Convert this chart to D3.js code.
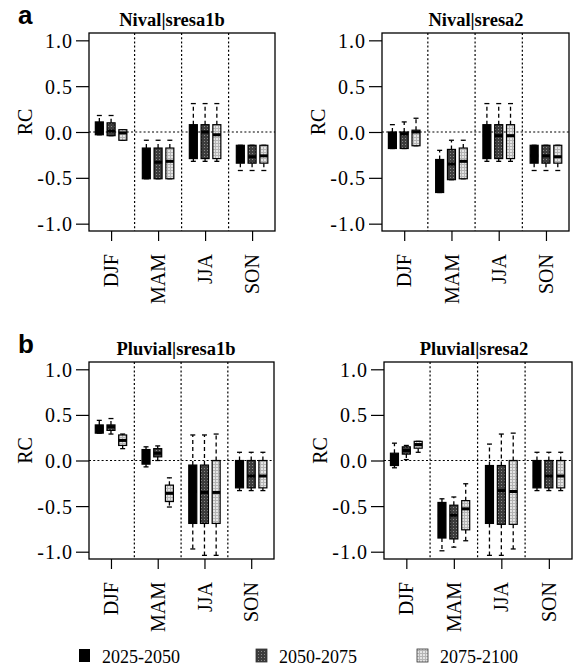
<!DOCTYPE html>
<html>
<head>
<meta charset="utf-8">
<script src="https://cdn.jsdelivr.net/npm/d3@7"></script>
<style>
  body { margin: 0; background: #fff; }
  svg text { font-family: "Liberation Serif", "DejaVu Serif", serif; fill: #000; }
  .letter { font-family: "Liberation Sans", Arial, sans-serif !important; font-weight: bold; font-size: 26px; }
</style>
</head>
<body>
<div id="chart"></div>
<script>
  const seasons = ['DJF', 'MAM', 'JJA', 'SON'];
  const periods = ['2025-2050', '2050-2075', '2075-2100'];
  const yTicks = [1.0, 0.5, 0.0, -0.5, -1.0];

  // each box: [lower whisker, q1, median, q3, upper whisker], ordered season x period
  const nivalA1B = [
    [-0.03, -0.03, 0.05, 0.11, 0.18], [-0.04, -0.04, 0.01, 0.10, 0.18], [-0.09, -0.09, -0.01, 0.025, 0.025],
    [-0.51, -0.51, -0.33, -0.175, -0.09], [-0.51, -0.51, -0.33, -0.175, -0.09], [-0.51, -0.51, -0.32, -0.175, -0.09],
    [-0.32, -0.29, -0.02, 0.08, 0.31], [-0.32, -0.29, 0.0, 0.08, 0.31], [-0.32, -0.29, -0.03, 0.08, 0.31],
    [-0.42, -0.34, -0.27, -0.145, -0.145], [-0.42, -0.34, -0.27, -0.145, -0.145], [-0.42, -0.34, -0.26, -0.145, -0.145]
  ];
  const nivalA2 = [
    [-0.18, -0.18, -0.05, 0.0, 0.08], [-0.18, -0.18, -0.02, 0.0, 0.11], [-0.15, -0.15, 0.0, 0.02, 0.15],
    [-0.66, -0.66, -0.5, -0.30, -0.2], [-0.52, -0.52, -0.35, -0.19, -0.09], [-0.51, -0.51, -0.32, -0.175, -0.09],
    [-0.32, -0.29, -0.04, 0.08, 0.31], [-0.32, -0.29, -0.04, 0.08, 0.31], [-0.32, -0.29, -0.04, 0.08, 0.31],
    [-0.42, -0.34, -0.26, -0.145, -0.145], [-0.42, -0.34, -0.26, -0.145, -0.145], [-0.42, -0.34, -0.27, -0.145, -0.145]
  ];
  const pluvialA1B = [
    [0.30, 0.30, 0.36, 0.39, 0.44], [0.29, 0.33, 0.37, 0.39, 0.46], [0.13, 0.165, 0.22, 0.28, 0.29],
    [-0.07, -0.04, 0.05, 0.12, 0.15], [0.0, 0.04, 0.08, 0.13, 0.16], [-0.51, -0.45, -0.36, -0.27, -0.19],
    [-0.97, -0.69, -0.34, -0.05, 0.28], [-1.04, -0.69, -0.35, -0.05, 0.28], [-1.04, -0.69, -0.35, 0.0, 0.29],
    [-0.33, -0.30, -0.16, 0.0, 0.09], [-0.33, -0.30, -0.17, 0.0, 0.09], [-0.33, -0.30, -0.17, 0.0, 0.09]
  ];
  const pluvialA2 = [
    [-0.08, -0.055, 0.0, 0.08, 0.19], [0.01, 0.07, 0.11, 0.15, 0.165], [0.09, 0.135, 0.175, 0.21, 0.21],
    [-0.99, -0.85, -0.6, -0.46, -0.42], [-0.95, -0.86, -0.6, -0.49, -0.40], [-0.88, -0.76, -0.53, -0.44, -0.255],
    [-1.04, -0.69, -0.35, -0.055, 0.18], [-1.04, -0.70, -0.33, -0.055, 0.29], [-0.97, -0.70, -0.34, 0.0, 0.30],
    [-0.33, -0.30, -0.17, 0.0, 0.09], [-0.33, -0.30, -0.17, 0.0, 0.09], [-0.33, -0.30, -0.17, 0.0, 0.09]
  ];

  const panels = [
    { title: 'Nival|sresa1b', letter: 'a', stats: nivalA1B, x0: 89, x1: 275, y0: 33, y1: 231, tx: 172 },
    { title: 'Nival|sresa2', stats: nivalA2, x0: 382, x1: 569, y0: 33, y1: 231, tx: 476 },
    { title: 'Pluvial|sresa1b', letter: 'b', stats: pluvialA1B, x0: 89, x1: 274, y0: 362, y1: 559, tx: 176 },
    { title: 'Pluvial|sresa2', stats: pluvialA2, x0: 384, x1: 572, y0: 362, y1: 559, tx: 474 }
  ];

  const width = 585, height = 667;
  const serif = '"Liberation Serif", "DejaVu Serif", serif';
  const fills = ['#000', 'url(#darkTex)', 'url(#lightTex)'];
  const fmt = d3.formatLocale({ decimal: '.', thousands: ',', grouping: [3], currency: ['', ''], minus: '-' }).format('.1f');

  const svg = d3.select('#chart').append('svg')
    .attr('width', width)
    .attr('height', height);

  // textures for the two lighter periods
  const defs = svg.append('defs');
  const dark = defs.append('pattern').attr('id', 'darkTex')
    .attr('patternUnits', 'userSpaceOnUse').attr('width', 3).attr('height', 3);
  dark.append('rect').attr('width', 3).attr('height', 3).attr('fill', '#3c3c3c');
  dark.append('rect').attr('width', 1).attr('height', 1).attr('fill', '#8a8a8a');
  const light = defs.append('pattern').attr('id', 'lightTex')
    .attr('patternUnits', 'userSpaceOnUse').attr('width', 3).attr('height', 3);
  light.append('rect').attr('width', 3).attr('height', 3).attr('fill', '#b4b4b4');
  light.append('rect').attr('width', 2).attr('height', 2).attr('fill', '#e4e4e4');

  panels.forEach(p => {
    const g = svg.append('g');

    // box positions 1..15 with a gap between seasons
    const x = d3.scaleLinear().domain([0.12, 15.95]).range([p.x0, p.x1]);
    const y = d3.scaleLinear().domain([-1.08, 1.08]).range([p.y1, p.y0]);
    const pos = (s, k) => s * 4 + 1 + k;
    const bw = 8;

    // dotted season separators and zero line
    [4, 8, 12].forEach(v => {
      g.append('line')
        .attr('x1', x(v)).attr('x2', x(v)).attr('y1', p.y0).attr('y2', p.y1)
        .attr('stroke', '#000').attr('stroke-width', 1.2).attr('stroke-dasharray', '2,2.2');
    });
    g.append('line')
      .attr('x1', p.x0).attr('x2', p.x1).attr('y1', y(0)).attr('y2', y(0))
      .attr('stroke', '#000').attr('stroke-width', 1.2).attr('stroke-dasharray', '2,2.2');

    // boxes
    p.stats.forEach((d, i) => {
      const s = Math.floor(i / 3), k = i % 3;
      const cx = x(pos(s, k));
      const [lo, q1, med, q3, hi] = d;
      const b = g.append('g');
      [[q3, hi], [q1, lo]].forEach(([a, c]) => {
        b.append('line')
          .attr('x1', cx).attr('x2', cx).attr('y1', y(a)).attr('y2', y(c))
          .attr('stroke', '#000').attr('stroke-width', 1.3).attr('stroke-dasharray', '4,3');
        b.append('line')
          .attr('x1', cx - bw / 4 - 0.5).attr('x2', cx + bw / 4 + 0.5).attr('y1', y(c)).attr('y2', y(c))
          .attr('stroke', '#000').attr('stroke-width', 1.3);
      });
      b.append('rect')
        .attr('x', cx - bw / 2).attr('width', bw)
        .attr('y', y(q3)).attr('height', Math.max(1, y(q1) - y(q3)))
        .attr('fill', fills[k]).attr('stroke', '#000').attr('stroke-width', 1.2);
      b.append('line')
        .attr('x1', cx - bw / 2).attr('x2', cx + bw / 2).attr('y1', y(med)).attr('y2', y(med))
        .attr('stroke', '#000').attr('stroke-width', 3);
    });

    // frame
    g.append('rect')
      .attr('x', p.x0).attr('y', p.y0).attr('width', p.x1 - p.x0).attr('height', p.y1 - p.y0)
      .attr('fill', 'none').attr('stroke', '#000').attr('stroke-width', 1.3);

    // y axis
    const ya = g.append('g').attr('transform', `translate(${p.x0},0)`)
      .call(d3.axisLeft(y).tickValues(yTicks).tickFormat(fmt).tickSize(13).tickPadding(3));
    ya.select('.domain').remove();
    ya.selectAll('line').attr('stroke-width', 1.2);
    ya.selectAll('text')
      .style('font-family', serif).style('font-size', '20px')
      .style('letter-spacing', '1px')
      .attr('dy', '0.35em');

    // x axis: one tick per season, labels rotated
    const xa = g.append('g').attr('transform', `translate(0,${p.y1})`)
      .call(d3.axisBottom(x).tickValues([2, 6, 10, 14]).tickFormat((v, i) => seasons[i]).tickSize(10));
    xa.select('.domain').remove();
    xa.selectAll('line').attr('stroke-width', 1.2);
    xa.selectAll('text')
      .style('font-family', serif).style('font-size', '20px')
      .attr('text-anchor', 'end')
      .attr('transform', 'translate(0,23) rotate(-90)')
      .attr('x', 0).attr('y', 0).attr('dy', '0.33em');

    // y label
    g.append('text')
      .attr('transform', `translate(${p.x0 - 57},${y(0) - 10}) rotate(-90)`)
      .attr('text-anchor', 'middle')
      .style('font-size', '20px')
      .text('RC');

    // title
    g.append('text')
      .attr('x', p.tx).attr('y', p.y0 - 7)
      .attr('text-anchor', 'middle')
      .style('font-size', '18.5px').style('font-weight', 'bold')
      .text(p.title);

    if (p.letter) {
      g.append('text').attr('class', 'letter')
        .attr('x', 18).attr('y', p.y0 - 9)
        .text(p.letter);
    }
  });

  // legend
  const legendX = [79, 256, 417];
  const lg = svg.append('g');
  periods.forEach((name, k) => {
    lg.append('rect')
      .attr('x', legendX[k]).attr('y', 649).attr('width', 11).attr('height', 13)
      .attr('fill', fills[k]).attr('stroke', k ? '#333' : 'none').attr('stroke-width', 0.8);
    lg.append('text')
      .attr('x', legendX[k] + 23).attr('y', 663)
      .style('font-size', '18px')
      .text(name);
  });
</script>
</body>
</html>
